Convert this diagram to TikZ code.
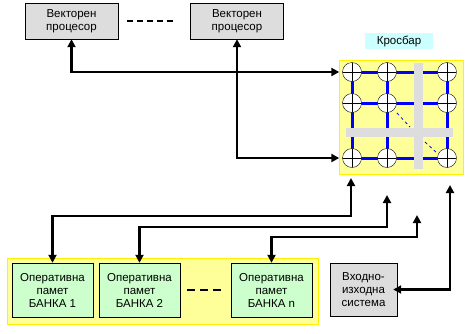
\documentclass[tikz,border=0pt]{standalone}
\usepackage{fontspec}
\setmainfont{Liberation Sans}
\usetikzlibrary{arrows.meta}
\definecolor{boxgray}{RGB}{221,221,221}
\definecolor{bankgreen}{RGB}{204,255,204}
\definecolor{paleyellow}{RGB}{255,255,153}
\definecolor{labelcyan}{RGB}{204,255,255}
\definecolor{gridblue}{RGB}{0,0,255}
\tikzset{
  unit/.style={draw, thin, align=center, inner sep=0pt, font=\fontsize{11.5}{13}\selectfont},
  proc/.style={unit, fill=boxgray, minimum width=93pt, minimum height=36pt},
  bank/.style={unit, fill=bankgreen, minimum width=81pt, minimum height=54pt},
  knot/.style={circle, draw, thin, fill=white, minimum size=19pt, inner sep=0pt,
    path picture={\draw (path picture bounding box.north) -- (path picture bounding box.south)
      (path picture bounding box.west) -- (path picture bounding box.east);}},
  link/.style={{Triangle[length=8pt,width=8pt]}-{Triangle[length=8pt,width=8pt]}, line width=2.6pt},
  wire/.style={gridblue, line width=3pt},
  bar/.style={fill=boxgray, draw=none},
}
\begin{document}
\begin{tikzpicture}[x=1pt, y=-1pt]
    \useasboundingbox (0,0) rectangle (473,333);
    % Processors
    \node[proc] (vp1) at (71.5,21) {Векторен\\процесор};
    \node[proc] (vp2) at (237,21) {Векторен\\процесор};
    \draw[line width=2pt, dash pattern=on 6pt off 4pt] ([xshift=9pt]vp1.east) -- ([xshift=-14pt]vp2.west);
    % Crossbar
    \node[draw=yellow, fill=paleyellow, minimum width=124pt, minimum height=114pt] (xbar) at (401,117) {};
    \node[fill=labelcyan, minimum width=68pt, minimum height=16pt, inner sep=0pt,
      font=\fontsize{11.5}{13}\selectfont] (xlabel) at (399,41) {Кросбар};
    \foreach \i/\x in {1/352,2/387,3/447}
      \foreach \j/\y in {1/72,2/103,3/158}
        \coordinate (p\i\j) at (\x,\y);
    \foreach \j in {1,2,3}
      \draw[wire] (p1\j) -- (p3\j);
    \foreach \i in {1,2,3}
      \draw[wire] (p\i1) -- (p\i3);
    \fill[boxgray] (414,63) rectangle (423,169); % vertical bar
    \fill[boxgray] (346,128) rectangle (453,137); % horizontal bar
    \foreach \i in {1,2,3}
      \foreach \j in {1,2,3}
        \node[knot] (c\i\j) at (p\i\j) {};
    \draw[gridblue, thick, dashed] (397,113) -- (410,127);
    \draw[gridblue, thick, dashed] (425,142) -- (437,153);
    % Memory banks
    \node[draw=yellow, fill=paleyellow, minimum width=311pt, minimum height=66pt] (mem) at (162.5,291) {};
    \node[bank] (b1) at (52.5,290) {Оперативна\\памет\\БАНКА 1};
    \node[bank] (b2) at (139.5,290) {Оперативна\\памет\\БАНКА 2};
    \node[bank] (bn) at (271.5,290) {Оперативна\\памет\\БАНКА n};
    \draw[line width=2pt, dash pattern=on 8pt off 5pt] ([xshift=7pt]b2.east) -- ([xshift=-10pt]bn.west);
    \node[unit, fill=boxgray, minimum width=67pt, minimum height=53pt] (io) at (363.5,289.5) {Входно-\\изходна\\система};
    % Coordinate
    \coordinate (k1) at (351,178);
    \coordinate (k2) at (387,195);
    \coordinate (k3) at (417,215);
    \coordinate (k4) at (450,185);
    \coordinate (h1) at (0,216);
    \coordinate (h2) at (0,227);
    \coordinate (h3) at (0,237);
    % Links
    \draw[link, shorten >=3pt] (vp1.south) |- (c11.west);
    \draw[link, shorten >=3pt] (vp2.south) |- (c13.west);
    \draw[link] (b1.north) -- (b1.north |- h1) -| (k1);
    \draw[link] (b2.north) -- (b2.north |- h2) -| (k2);
    \draw[link] (bn.north) -- (bn.north |- h3) -| (k3);
    \draw[link, shorten <=-4pt] (io.east) -| (k4);
\end{tikzpicture}
\end{document}
